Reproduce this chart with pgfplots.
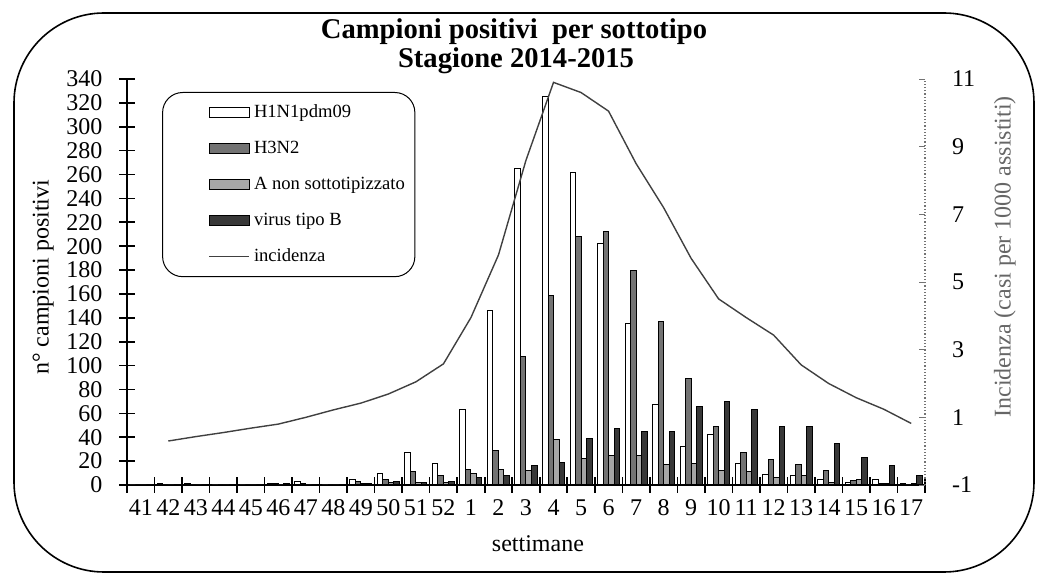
\documentclass[border=0pt]{standalone}
\usepackage{pgfplots}
\usepackage{pgfplotstable}
\pgfplotsset{compat=1.18}
\usepackage{fontspec}
\setmainfont{Liberation Serif}

\pgfplotsset{
  barleg/.style={legend image code/.code={\path (-20pt,0pt); \draw[##1, rounded corners=0pt] (0pt,-2.6pt) rectangle (20pt,2.6pt);}},
  lineleg/.style={legend image code/.code={\path (-20pt,0pt); \draw[##1, rounded corners=0pt] (0pt,0pt) -- (20pt,0pt);}},
}

\pgfplotstableread{
x h1 h3 a b
0 0 0 0 0
1 1 0 0 0
2 1 0 0 0
3 0 0 0 0
4 0 0 0 0
5 1 1 0 1
6 3 1 0 0
7 0 0 0 0
8 5 3 1 1
9 10 5 2 3
10 27 11 2 2
11 18 8 2 3
12 63 13 10 6
13 146 29 13 8
14 265 108 12 16
15 325 159 38 19
16 262 208 22 39
17 202 212 25 47
18 135 180 25 45
19 67 137 17 45
20 32 89 18 66
21 42 49 12 70
22 18 27 11 63
23 9 21 6 49
24 8 17 8 49
25 5 12 2 35
26 2 4 5 23
27 5 1 1 16
28 1 0 1 8
}\bars

\pgfplotstableread{
x inc
1 0.30
2 0.43
3 0.55
4 0.68
5 0.80
6 1.00
7 1.22
8 1.42
9 1.69
10 2.05
11 2.58
12 3.95
13 5.80
14 8.60
15 10.90
16 10.60
17 10.05
18 8.50
19 7.20
20 5.70
21 4.50
22 3.95
23 3.43
24 2.55
25 2.00
26 1.58
27 1.24
28 0.82
}\incid

\begin{document}
\begin{tikzpicture}
\useasboundingbox (0,0) rectangle (520.5pt,287pt);
\draw[line width=0.8pt, rounded corners=45pt] (7pt,1pt) rectangle (517pt,280.5pt);
\node[font=\bfseries\fontsize{14.3}{17}\selectfont, anchor=base] at (257pt,267.5pt) {Campioni positivi\ \ per sottotipo};
\node[font=\bfseries\fontsize{14.3}{17}\selectfont, anchor=base] at (258pt,253pt) {Stagione 2014-2015};

\begin{axis}[
  at={(63.5pt,44.5pt)}, anchor=south west,
  width=399pt, height=203pt, scale only axis,
  xmin=-0.5, xmax=28.5, ymin=0, ymax=340,
  axis x line*=bottom, axis y line*=left,
  axis line style={-, line width=0.8pt},
  tick align=center,
  major tick length=7.5pt, minor tick length=7.5pt,
  tick style={black, line width=0.8pt},
  ytick={0,20,...,340},
  xtick={0,...,28},
  xticklabels={41,42,43,44,45,46,47,48,49,50,51,52,1,2,3,4,5,6,7,8,9,10,11,12,13,14,15,16,17},
  minor xtick={-0.5,0.5,...,28.5},
  major x tick style={draw=none},
  ticklabel style={font=\fontsize{12}{14}\selectfont},
  yticklabel style={xshift=-5pt},
  /pgf/number format/assume math mode=true,
  xlabel={settimane},
  ylabel={n° campioni positivi},
  label style={font=\fontsize{12}{14}\selectfont},
  xlabel style={at={(axis description cs:0.515,-0.165)}, anchor=base},
  ylabel style={at={(axis description cs:-0.105,0.512)}, anchor=center},
  legend style={at={(0.044,0.968)}, anchor=north west, draw=black, line width=0.5pt,
    rounded corners=10pt, font=\fontsize{9.3}{10}\selectfont, row sep=6.3pt,
    inner xsep=3pt, inner ysep=4pt},
  legend cell align=left,
]
\addplot[ybar, bar width=0.2, bar shift=-0.3, draw=black, line width=0.5pt, fill=white, barleg]
  table[x=x, y=h1] {\bars};
\addlegendentry{H1N1pdm09}
\addplot[ybar, bar width=0.2, bar shift=-0.1, draw=black, line width=0.5pt, fill=black!55, barleg]
  table[x=x, y=h3] {\bars};
\addlegendentry{H3N2}
\addplot[ybar, bar width=0.2, bar shift=0.1, draw=black, line width=0.5pt, fill=black!35, barleg]
  table[x=x, y=a] {\bars};
\addlegendentry{A non sottotipizzato}
\addplot[ybar, bar width=0.2, bar shift=0.3, draw=black, line width=0.5pt, fill=black!78, barleg]
  table[x=x, y=b] {\bars};
\addlegendentry{virus tipo B}
\addlegendimage{black!75, line width=0.7pt, lineleg}
\addlegendentry{incidenza}
\end{axis}

\begin{axis}[
  at={(63.5pt,44.5pt)}, anchor=south west,
  width=399pt, height=203pt, scale only axis,
  xmin=-0.5, xmax=28.5, ymin=-1, ymax=11,
  axis y line*=right, axis x line=none,
  y axis line style={-, densely dotted, black!55, line width=0.6pt},
  ytick={-1,1,...,11},
  ytick style={black!55},
  major tick length=3pt, tick align=inside,
  ticklabel style={font=\fontsize{12}{14}\selectfont},
  yticklabel style={xshift=10pt},
  /pgf/number format/assume math mode=true,
  ylabel={Incidenza (casi per 1000 assistiti)},
  ylabel style={at={(axis description cs:1.1,0.562)}, anchor=center, font=\fontsize{12}{14}\selectfont, text=black!60},
]
\addplot[black!75, line width=0.7pt] table[x=x, y=inc] {\incid};
\end{axis}
\end{tikzpicture}
\end{document}
